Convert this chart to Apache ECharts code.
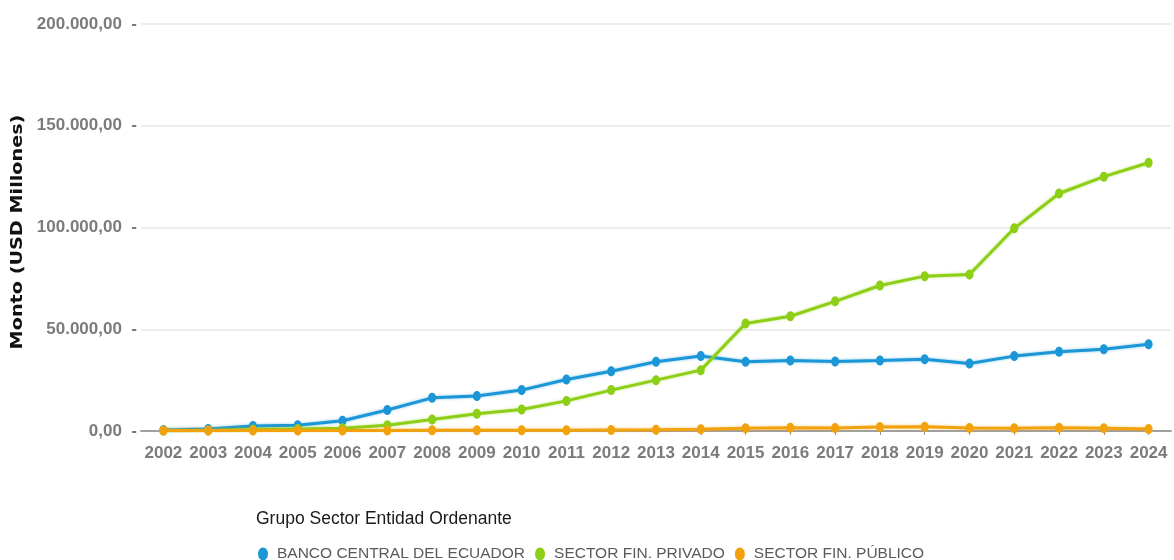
<!DOCTYPE html>
<html>
<head>
<meta charset="utf-8">
<script src="https://cdn.jsdelivr.net/npm/echarts@6/dist/echarts.min.js"></script>
<style>
  html, body { margin: 0; padding: 0; background: #ffffff; }
  #chart { width: 1174px; height: 560px; }
</style>
</head>
<body>
<div id="chart"></div>
<script>
// Years on the category axis
const years = ['2002','2003','2004','2005','2006','2007','2008','2009','2010','2011','2012','2013',
               '2014','2015','2016','2017','2018','2019','2020','2021','2022','2023','2024'];

// Amounts (USD millions) per ordering-entity group
const bancoCentral = [500, 1000, 2450, 2800, 5050, 10300, 16300, 17150, 20100, 25300, 29400, 34000,
                      36800, 34000, 34600, 34100, 34600, 35300, 33200, 36800, 38900, 40200, 42600];
const sectorPrivado = [100, 200, 700, 1000, 1300, 2800, 5700, 8500, 10600, 14800, 20100, 25000,
                       29900, 52800, 56400, 63700, 71500, 76100, 76900, 99600, 116700, 125000, 131800];
const sectorPublico = [200, 200, 300, 300, 300, 300, 400, 400, 400, 400, 500, 600,
                       800, 1300, 1600, 1500, 2000, 2100, 1500, 1300, 1600, 1300, 1000];

const seriesNames = ['BANCO CENTRAL DEL ECUADOR', 'SECTOR FIN. PRIVADO', 'SECTOR FIN. PÚBLICO'];
const seriesColors = ['#1b96d6', '#8dce16', '#f2a20c'];

const yTicks = { min: 0, max: 200000, interval: 50000 };

const FONT = '"Liberation Sans", Arial, sans-serif';
// Tall oval marker
const oval = 'path://M0,6.5 C0,2.9 2.2,0 5,0 C7.8,0 10,2.9 10,6.5 C10,10.1 7.8,13 5,13 C2.2,13 0,10.1 0,6.5 Z';

function fmt(v) {
  const s = Math.round(v).toString().replace(/\B(?=(\d{3})+(?!\d))/g, '.');
  return s + ',00  -';
}

function lineSeries(name, data, color) {
  return {
    name: name,
    type: 'line',
    data: data,
    symbol: oval,
    symbolSize: [8, 10],
    symbolKeepAspect: false,
    showAllSymbol: true,
    lineStyle: { width: 3, color: color, shadowColor: color + '88', shadowBlur: 3 },
    itemStyle: { color: color },
    emphasis: { disabled: true }
  };
}

const chart = echarts.init(document.getElementById('chart'));
chart.setOption({
  animation: false,
  backgroundColor: '#ffffff',
  grid: { left: 141, right: 3, top: 24, bottom: 129, containLabel: false },
  title: {
    text: 'Grupo Sector Entidad Ordenante',
    left: 251, top: 505,
    textStyle: { fontFamily: FONT, fontSize: 17.5, fontWeight: 'normal', color: '#1a1a1a' }
  },
  legend: {
    data: seriesNames,
    left: 253, top: 541,
    icon: oval,
    itemWidth: 18, itemHeight: 13,
    itemGap: 10,
    textStyle: { fontFamily: FONT, fontSize: 15.5, color: '#5a5a5a' }
  },
  graphic: [{
    type: 'text',
    x: 18, y: 232,
    rotation: Math.PI / 2,
    scaleX: 1.2,
    style: {
      text: 'Monto (USD Millones)',
      font: 'bold 16px "DejaVu Sans", sans-serif',
      fill: '#111111',
      align: 'center',
      verticalAlign: 'middle'
    }
  }],
  xAxis: {
    type: 'category',
    data: years,
    boundaryGap: true,
    axisLine: { show: true, lineStyle: { color: '#a0a0a0', width: 2 } },
    axisTick: { show: true, alignWithLabel: true, length: 4, lineStyle: { color: '#909090' } },
    axisLabel: {
      interval: 0, margin: 14,
      fontFamily: FONT, fontSize: 17, fontWeight: 'bold', color: '#7b7b7b'
    }
  },
  yAxis: {
    type: 'value',
    min: yTicks.min, max: yTicks.max, interval: yTicks.interval,
    axisLine: { show: false },
    axisTick: { show: false },
    splitLine: { lineStyle: { color: '#ececec', width: 2 } },
    axisLabel: {
      margin: 4,
      formatter: fmt,
      fontFamily: FONT, fontSize: 17, fontWeight: 'bold', color: '#7b7b7b'
    }
  },
  series: [
    lineSeries(seriesNames[0], bancoCentral, seriesColors[0]),
    lineSeries(seriesNames[1], sectorPrivado, seriesColors[1]),
    lineSeries(seriesNames[2], sectorPublico, seriesColors[2])
  ]
});
</script>
</body>
</html>
